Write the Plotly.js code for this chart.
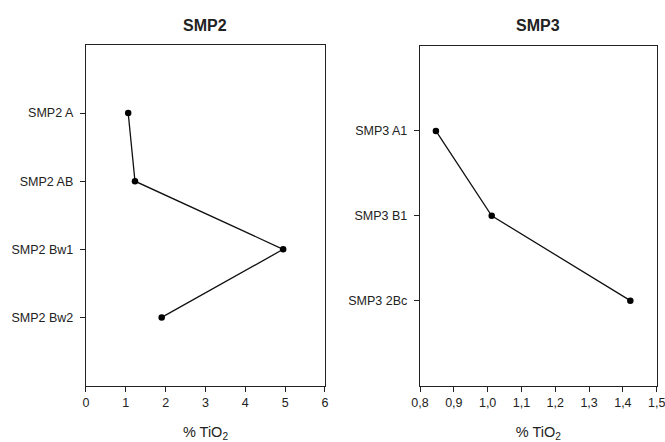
<!DOCTYPE html>
<html>
<head>
<meta charset="utf-8">
<script src="https://cdn.plot.ly/plotly-3.0.1.min.js"></script>
<style>html,body{margin:0;padding:0;background:#fff;}#chart{width:665px;height:442px;}</style>
</head>
<body>
<div id="chart"></div>
<script>
// SMP2 profile
const smp2Labels = ["SMP2 A", "SMP2 AB", "SMP2 Bw1", "SMP2 Bw2"];
const smp2Values = [1.06, 1.23, 4.95, 1.90];
// SMP3 profile
const smp3Labels = ["SMP3 A1", "SMP3 B1", "SMP3 2Bc"];
const smp3Values = [0.847, 1.012, 1.422];
const xTitle = "% TiO<sub>2</sub>";

const pos2 = smp2Labels.map((_, i) => i + 1);
const pos3 = smp3Labels.map((_, i) => i + 1);

const lineStyle = {color: "#111", width: 1.3};
const markerStyle = {color: "#000", size: 6.5};

const traces = [
  {x: smp2Values, y: pos2, xaxis: "x", yaxis: "y", mode: "lines+markers", line: lineStyle, marker: markerStyle, hoverinfo: "x+text", text: smp2Labels},
  {x: smp3Values, y: pos3, xaxis: "x2", yaxis: "y2", mode: "lines+markers", line: lineStyle, marker: markerStyle, hoverinfo: "x+text", text: smp3Labels}
];

const tickFont = {family: "Liberation Sans, Arial, sans-serif", size: 12.5, color: "#222"};
const axisCommon = {showgrid: false, zeroline: false, showline: true, linecolor: "#222", linewidth: 1.2, mirror: true, ticks: "outside", ticklen: 5, tickcolor: "#222", tickfont: tickFont};

const layout = {
  width: 665, height: 442,
  margin: {l: 0, r: 0, t: 0, b: 0},
  paper_bgcolor: "#fff", plot_bgcolor: "#fff",
  showlegend: false,
  separators: ",.",
  font: {family: "Liberation Sans, Arial, sans-serif", color: "#222"},
  xaxis: Object.assign({}, axisCommon, {domain: [0.1293, 0.4887], range: [0, 6], tickvals: [0,1,2,3,4,5,6], anchor: "y",
    title: {text: xTitle, font: {size: 14.5, color: "#222"}, standoff: 20}}),
  yaxis: Object.assign({}, axisCommon, {domain: [0.1278, 0.8982], range: [5, 0], tickvals: pos2, ticktext: smp2Labels, anchor: "x", ticklabelstandoff: 4}),
  xaxis2: Object.assign({}, axisCommon, {domain: [0.6316, 0.9875], range: [0.8, 1.5], tickvals: [0.8,0.9,1.0,1.1,1.2,1.3,1.4,1.5], tickformat: ".1f", anchor: "y2",
    ticklabeloverflow: "allow",
    title: {text: xTitle, font: {size: 14.5, color: "#222"}, standoff: 20}}),
  yaxis2: Object.assign({}, axisCommon, {domain: [0.1278, 0.8959], range: [4, 0], tickvals: pos3, ticktext: smp3Labels, anchor: "x2", ticklabelstandoff: 4}),
  annotations: [
    {text: "<b>SMP2</b>", xref: "paper", yref: "paper", x: (0.1293 + 0.4887) / 2, y: 1 - 25 / 442, xanchor: "center", yanchor: "middle", showarrow: false, font: {size: 16, color: "#222"}},
    {text: "<b>SMP3</b>", xref: "paper", yref: "paper", x: (0.6316 + 0.9875) / 2, y: 1 - 25 / 442, xanchor: "center", yanchor: "middle", showarrow: false, font: {size: 16, color: "#222"}}
  ]
};

Plotly.newPlot("chart", traces, layout, {displayModeBar: false, staticPlot: true});
</script>
</body>
</html>
